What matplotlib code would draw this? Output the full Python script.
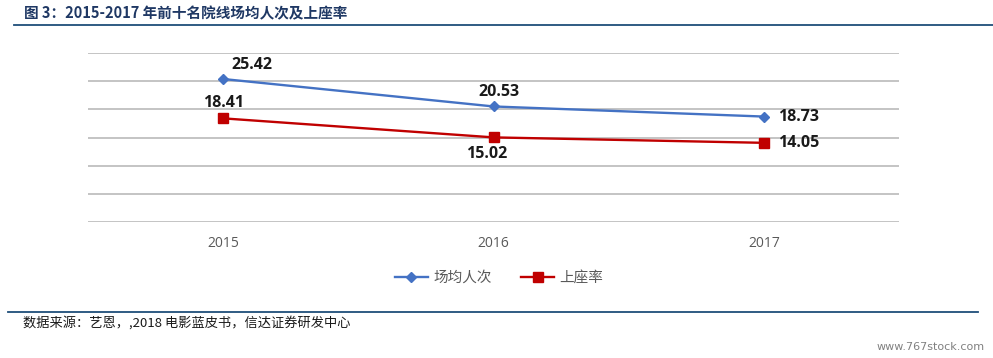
import matplotlib
matplotlib.use("Agg")
import matplotlib.pyplot as plt
from matplotlib.lines import Line2D

years = ["2015", "2016", "2017"]
attendance = [25.42, 20.53, 18.73]
occupancy = [18.41, 15.02, 14.05]
series_names = ["场均人次", "上座率"]
title = "图 3：2015-2017 年前十名院线场均人次及上座率"
source = "数据来源：艺恩，,2018 电影蓝皮书，信达证券研发中心"
watermark = "www.767stock.com"

plt.rcParams['font.family'] = ['Noto Sans CJK SC', 'DejaVu Sans']

fig = plt.figure(figsize=(9.93, 3.58), dpi=100)
ax = fig.add_axes([88/993, 1-221.7/358, (899-88)/993, (221.7-53.3)/358])

x = list(range(len(years)))
blue = "#4472C4"
red = "#C00000"
ax.plot(x, attendance, color=blue, lw=1.7, marker="D", ms=5, zorder=3)
ax.plot(x, occupancy, color=red, lw=1.7, marker="s", ms=7, zorder=3)

ax.set_xlim(-0.5, 2.5)
ax.set_ylim(0, 30)
ax.set_yticks(range(0, 31, 5))
ax.yaxis.grid(True, color="#BFBFBF", lw=1.3)
ax.set_axisbelow(True)
ax.tick_params(left=False, bottom=False, labelleft=False)
for s in ax.spines.values():
    s.set_visible(False)
ax.set_xticks(x)
ax.set_xticklabels(years, fontsize=10, color="#595959", family=["Open Sans", "DejaVu Sans"])
ax.tick_params(axis="x", pad=7)

lab_kw = dict(fontsize=11.5, fontweight="bold", color="#1a1a1a", family=["Open Sans", "DejaVu Sans"])
# attendance labels
ax.annotate(f"{attendance[0]:.2f}", (x[0], attendance[0]), xytext=(6, 4), textcoords="offset points", ha="left", va="bottom", **lab_kw)
ax.annotate(f"{attendance[1]:.2f}", (x[1], attendance[1]), xytext=(4, 5), textcoords="offset points", ha="center", va="bottom", **lab_kw)
ax.annotate(f"{attendance[2]:.2f}", (x[2], attendance[2]), xytext=(10, 0), textcoords="offset points", ha="left", va="center", **lab_kw)
# occupancy labels
ax.annotate(f"{occupancy[0]:.2f}", (x[0], occupancy[0]), xytext=(0, 5), textcoords="offset points", ha="center", va="bottom", **lab_kw)
ax.annotate(f"{occupancy[1]:.2f}", (x[1], occupancy[1]), xytext=(-5, -6), textcoords="offset points", ha="center", va="top", **lab_kw)
ax.annotate(f"{occupancy[2]:.2f}", (x[2], occupancy[2]), xytext=(10, 0), textcoords="offset points", ha="left", va="center", **lab_kw)

handles = [Line2D([], [], color=blue, lw=1.7, marker="D", ms=5),
           Line2D([], [], color=red, lw=1.7, marker="s", ms=6.5)]
leg = fig.legend(handles, series_names, loc="center", bbox_to_anchor=(499/993, 1-278/358),
                 ncol=2, frameon=False, fontsize=10.5, handlelength=2.3, columnspacing=2.0,
                 handletextpad=0.35)
for t in leg.get_texts():
    t.set_color("#595959")

# title and rules
fig.text(24/993, 1-13/358, title, fontsize=10.5, fontweight="bold", color="#1F3864", va="center", ha="left")
fig.add_artist(Line2D([14/993, 1.0], [1-25/358, 1-25/358], color="#1F4E79", lw=1.3))
fig.add_artist(Line2D([8/993, 978/993], [1-312/358, 1-312/358], color="#1F4E79", lw=1.3))
fig.text(23/993, 1-323/358, source, fontsize=9.5, style="italic", color="#1a1a1a", va="center", ha="left")
fig.text(985/993, 1-347/358, watermark, fontsize=8, color="#808080", va="center", ha="right",
         family=["Liberation Sans Narrow", "DejaVu Sans"])

fig.savefig("out.png", dpi=100)
